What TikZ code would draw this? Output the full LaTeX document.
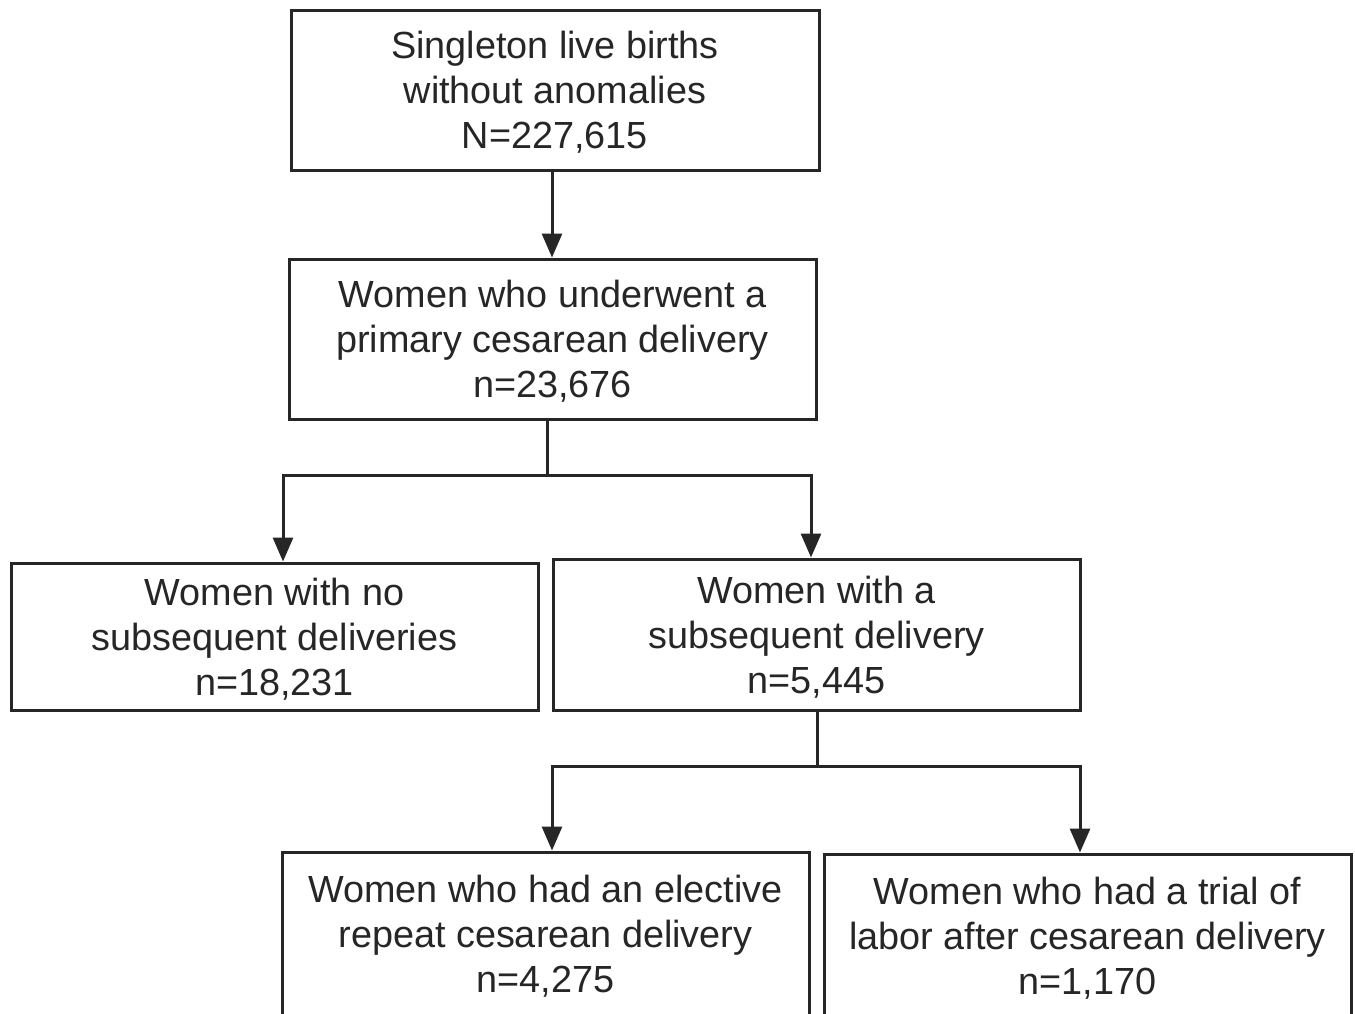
\documentclass[tikz,border=0pt]{standalone}
\usepackage{fontspec}
\setmainfont{Liberation Sans}
\usetikzlibrary{arrows.meta,calc}
\begin{document}
\begin{tikzpicture}[x=0.5pt,y=-0.5pt,
  box/.style={draw=black!85,line width=1.5pt,minimum width=264pt,inner sep=0pt,align=center,
    font=\fontsize{18.9}{22.5}\selectfont,text=black!85,text depth=0pt},
  conn/.style={draw=black!85,line width=1.5pt},
  arr/.style={conn,-{Triangle[length=12pt,width=10pt]}}]
\clip (0,0) rectangle (1355,1013);
\fill[white] (0,0) rectangle (1355,1013);
\node[box,minimum height=80pt] (b1) at (555,90) {Singleton live births\\without anomalies\\N=227,615};
\node[box,minimum height=80pt,minimum width=263.5pt] (b2) at (552.5,339) {Women who underwent a\\primary cesarean delivery\\n=23,676};
\node[box,minimum height=73.5pt,minimum width=263.5pt] (b3) at (274.5,636.5) {Women with no\\subsequent deliveries\\n=18,231};
\node[box,minimum height=75.5pt,minimum width=263.5pt] (b4) at (816.5,634.5) {Women with a\\subsequent delivery\\n=5,445};
\node[box,minimum height=82pt,minimum width=263.5pt] (b5) at (545.5,934) {Women who had an elective\\repeat cesarean delivery\\n=4,275};
\node[box,minimum height=82pt,minimum width=263.5pt] (b6) at (1087.5,936) {Women who had a trial of\\labor after cesarean delivery\\n=1,170};
\coordinate (s1) at (547,475);
\coordinate (s2) at (817,766);
\draw[arr] (b1.south -| 552,0) -- (b2.north -| 552,0);
\draw[conn] (b2.south -| s1) -- (s1);
\draw[arr] (s1) -| (b3.north -| 283,0);
\draw[arr] (s1) -| (b4.north -| 811,0);
\draw[conn] (b4.south -| s2) -- (s2);
\draw[arr] (s2) -| (b5.north -| 552,0);
\draw[arr] (s2) -| (b6.north -| 1080,0);
\end{tikzpicture}
\end{document}
